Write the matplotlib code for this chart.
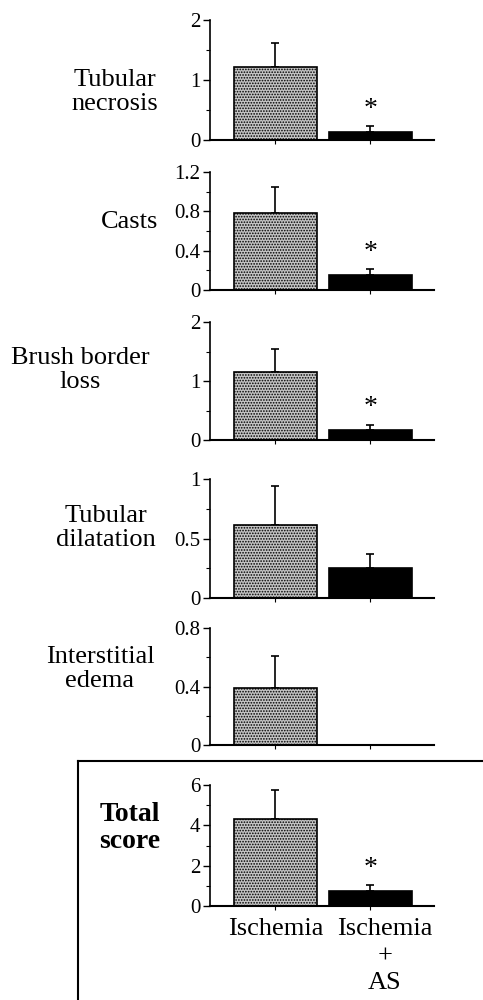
import numpy as np
import matplotlib.pyplot as plt
from matplotlib.lines import Line2D

plt.rcParams['font.family'] = ['Liberation Serif', 'DejaVu Serif']
plt.rcParams['hatch.linewidth'] = 0.8

# data
groups = ['Ischemia', 'Ischemia\n+\nAS']
labels = ['Tubular\nnecrosis', 'Casts', 'Brush border\nloss',
          'Tubular\ndilatation', 'Interstitial\nedema', 'Total\nscore']
ischemia = [1.22, 0.78, 1.15, 0.61, 0.39, 4.31]
ischemia_err = [0.40, 0.27, 0.40, 0.33, 0.22, 1.44]
ischemia_as = [0.13, 0.15, 0.17, 0.25, 0.0, 0.74]
ischemia_as_err = [0.10, 0.06, 0.09, 0.12, 0.0, 0.30]
significant = [True, True, True, False, False, True]
ymax = [2, 1.2, 2, 1, 0.8, 6]
yticks = [[0, 1, 2], [0, 0.4, 0.8, 1.2], [0, 1, 2], [0, 0.5, 1], [0, 0.4, 0.8], [0, 2, 4, 6]]
yticklabels = [['0', '1', '2'], ['0', '0.4', '0.8', '1.2'], ['0', '1', '2'],
               ['0', '0.5', '1'], ['0', '0.4', '0.8'], ['0', '2', '4', '6']]

# layout (figure pixels, top/bottom of each panel)
W, H = 483, 1000
tops = [20, 172, 322, 479, 628, 785]
bots = [140, 290, 440, 598, 745, 906]
label_xy = [(115, 92), (130, 222), (80, 370), (106, 528), (100, 669), (130, 828)]

fig = plt.figure(figsize=(W / 100, H / 100), dpi=100)

x = np.array([0, 1])
for i in range(6):
    ax = fig.add_axes([210 / W, 1 - bots[i] / H, 224 / W, (bots[i] - tops[i]) / H])
    ax.bar(x[0], ischemia[i], width=0.875, facecolor='#c4c4c4', edgecolor='black',
           hatch='......', linewidth=1.2, zorder=2)
    ax.bar(x[1], ischemia_as[i], width=0.875, facecolor='black', edgecolor='black',
           linewidth=1.2, zorder=2)
    ax.errorbar(x[0], ischemia[i], yerr=[[0], [ischemia_err[i]]], fmt='none',
                ecolor='black', elinewidth=1.2, capsize=3, capthick=1.2, zorder=1)
    if ischemia_as_err[i] > 0:
        ax.errorbar(x[1], ischemia_as[i], yerr=[[0], [ischemia_as_err[i]]], fmt='none',
                    ecolor='black', elinewidth=1.2, capsize=3, capthick=1.2, zorder=1)
    if significant[i]:
        ax.annotate('*', (x[1], ischemia_as[i] + ischemia_as_err[i]),
                    xytext=(0, 3), textcoords='offset points', ha='center',
                    va='bottom', fontsize=20)
    ax.set_xlim(-0.69, 1.67)
    ax.set_ylim(0, ymax[i])
    ax.set_yticks(yticks[i])
    ax.set_yticklabels(yticklabels[i])
    mids = [(a + b) / 2 for a, b in zip(yticks[i][:-1], yticks[i][1:])]
    ax.set_yticks(mids, minor=True)
    ax.tick_params(axis='y', which='major', length=5, width=1, labelsize=15, pad=2)
    ax.tick_params(axis='y', which='minor', length=3, width=0.8)
    ax.set_xticks(x)
    ax.tick_params(axis='x', length=3, width=0.8, direction='out', labelbottom=False)
    for s in ['top', 'right']:
        ax.spines[s].set_visible(False)
    ax.spines['left'].set_linewidth(1.2)
    ax.spines['bottom'].set_linewidth(1.5)
    ax.patch.set_alpha(0)

    lx, ly = label_xy[i]
    fig.text(lx / W, 1 - ly / H, labels[i], ha='center', va='center',
             fontsize=19 if i < 5 else 20, linespacing=1.12,
             fontweight='bold' if i == 5 else 'normal')

    if i == 5:
        ax.text(0, -0.1, groups[0], transform=ax.get_xaxis_transform(),
                ha='center', va='top', fontsize=19)
        ax.text(1.15, -0.1, groups[1], transform=ax.get_xaxis_transform(),
                ha='center', va='top', fontsize=19, linespacing=1.3)

# box around total score
fig.add_artist(Line2D([78 / W, 1], [1 - 761 / H, 1 - 761 / H], color='black',
                      linewidth=1.5, transform=fig.transFigure))
fig.add_artist(Line2D([78 / W, 78 / W], [1 - 761 / H, 0], color='black',
                      linewidth=1.5, transform=fig.transFigure))

fig.savefig('out.png', dpi=100)
